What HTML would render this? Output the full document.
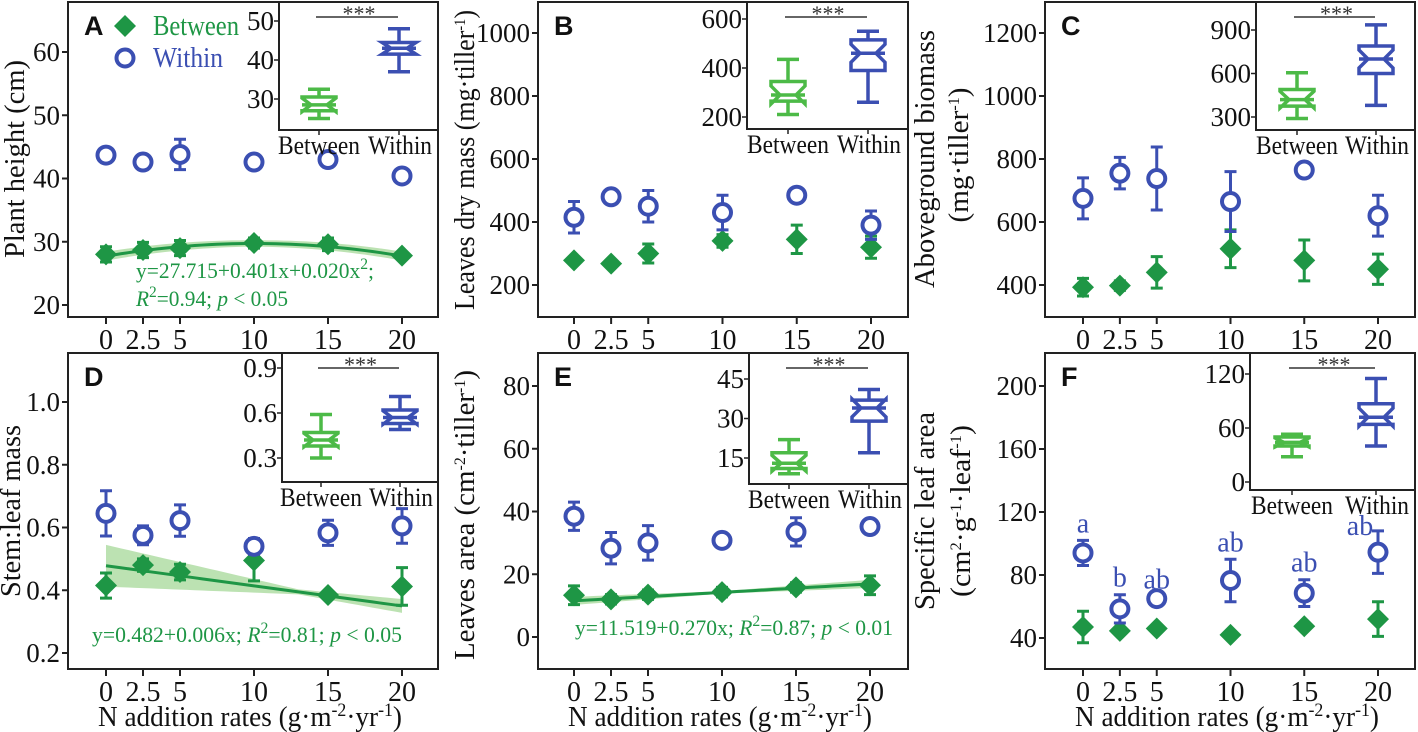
<!DOCTYPE html>
<html><head><meta charset="utf-8">
<style>
html,body{margin:0;padding:0;background:#fff;}
svg{display:block;font-family:"Liberation Serif","Times New Roman",serif;}
</style></head>
<body>
<svg id="fig" width="1418" height="732" viewBox="0 0 1418 732" xmlns="http://www.w3.org/2000/svg"></svg>
<script>
// ---- data ----
const nRates = [0, 2.5, 5, 10, 15, 20];
const xTickLabels = ["0","2.5","5","10","15","20"];

const aWithin = [43.7, 42.6, 43.8, 42.6, 43.0, 40.4];
const aWithinErr = [0.3, 0.3, 2.4, 1.0, 0.6, 0.3];
const aBetween = [28.0, 28.7, 29.0, 29.8, 29.6, 27.8];
const aBetweenErr = [1.2, 1.2, 1.2, 0.8, 1.0, 0.3];
const aFit = [27.715, 0.401, -0.020];
const aTicks = [20, 30, 40, 50, 60];
const aBoxBetween = [25, 27, 28.5, 30.5, 32.5];
const aBoxWithin = [37, 41.5, 43, 44.5, 48];
const aInsetTicks = [30, 40, 50];

const bWithin = [415, 480, 450, 430, 485, 390];
const bWithinErr = [50, 8, 50, 55, 10, 45];
const bBetween = [278, 268, 300, 340, 345, 320];
const bBetweenErr = [8, 5, 30, 20, 45, 35];
const bTicks = [200, 400, 600, 800, 1000];
const bBoxBetween = [210, 265, 290, 345, 435];
const bBoxWithin = [260, 390, 460, 515, 550];
const bInsetTicks = [200, 400, 600];

const cWithin = [675, 755, 738, 665, 765, 620];
const cWithinErr = [65, 50, 100, 95, 5, 65];
const cBetween = [393, 398, 440, 515, 478, 450];
const cBetweenErr = [28, 15, 50, 60, 65, 48];
const cTicks = [400, 600, 800, 1000, 1200];
const cBoxBetween = [290, 375, 420, 490, 605];
const cBoxWithin = [380, 600, 700, 790, 935];
const cInsetTicks = [300, 600, 900];

const dWithin = [0.645, 0.575, 0.622, 0.54, 0.583, 0.605];
const dWithinErr = [0.072, 0.03, 0.05, 0.025, 0.04, 0.055];
const dBetween = [0.415, 0.48, 0.458, 0.495, 0.385, 0.412];
const dBetweenErr = [0.04, 0.02, 0.025, 0.065, 0.01, 0.06];
const dFit = [0.478, -0.0064];
const dTicks = [0.2, 0.4, 0.6, 0.8, 1.0];
const dBoxBetween = [0.30, 0.38, 0.42, 0.47, 0.59];
const dBoxWithin = [0.49, 0.53, 0.57, 0.62, 0.71];
const dInsetTicks = [0.3, 0.6, 0.9];

const eWithin = [38.5, 28.3, 30.0, 30.8, 33.5, 35.2];
const eWithinErr = [4.5, 5.0, 5.5, 0.8, 4.5, 0.8];
const eBetween = [13.3, 12.0, 13.5, 14.3, 15.8, 16.5];
const eBetweenErr = [3.0, 1.5, 1.5, 1.5, 1.5, 3.0];
const eFit = [11.519, 0.270];
const eTicks = [0, 20, 40, 60, 80];
const eBoxBetween = [9, 11, 13, 17, 22];
const eBoxWithin = [17, 29, 34, 37, 41];
const eInsetTicks = [15, 30, 45];

const fWithin = [94, 58.5, 65, 76.5, 68.5, 94.5];
const fWithinErr = [8, 9, 1.5, 13.5, 8.5, 13.5];
const fBetween = [47, 44.5, 46, 42, 47.5, 52];
const fBetweenErr = [10, 1, 1, 1, 1, 11];
const fLetters = ["a","b","ab","ab","ab","ab"];
const fTicks = [40, 80, 120, 160, 200];
const fBoxBetween = [28, 40, 44, 50, 53];
const fBoxWithin = [40, 64, 72, 87, 115];
const fInsetTicks = [0, 60, 120];

// ---- rendering ----
const NS = "http://www.w3.org/2000/svg";
const svg = document.getElementById("fig");
const GREEN = "#1e9645", LGREEN = "#4cba47", BLUE = "#3b4fb2";
const TICK_FS = 27, TITLE_FS = 29;
function mk(tag, attrs, parent, text) {
  const e = document.createElementNS(NS, tag);
  for (const k in attrs) e.setAttribute(k, attrs[k]);
  if (text !== undefined) e.textContent = text;
  (parent || svg).appendChild(e);
  return e;
}
function lin(v1, p1, v2, p2) { return v => p1 + (v - v1) * (p2 - p1) / (v2 - v1); }

function panel(cfg) {
  const g = mk("g", {});
  
  
  const X = lin(0, cfg.x0p, 20, cfg.x20p);
  const Y = lin(cfg.yv1, cfg.yp1, cfg.yv2, cfg.yp2);
  const fr = mk("rect", {x: cfg.fx0, y: cfg.fy0, width: cfg.fx1 - cfg.fx0, height: cfg.fy1 - cfg.fy0, fill: "none", stroke: "#222", "stroke-width": 2}, g);
  
  
  cfg.yTicks.forEach(t => {
    const y = Y(t);
    mk("line", {x1: cfg.fx0 - 6, x2: cfg.fx0, y1: y, y2: y, stroke: "#222", "stroke-width": 2}, g);
    const tl = mk("text", {x: cfg.fx0 - 8, y: y + 9, "text-anchor": "end", "font-size": TICK_FS, fill: "#111"}, g, String(t === 1 ? "1.0" : t));
    
    
  });
  nRates.forEach((r, i) => {
    const x = X(r);
    mk("line", {x1: x, x2: x, y1: cfg.fy1, y2: cfg.fy1 + 7, stroke: "#222", "stroke-width": 2}, g);
    const tl = mk("text", {x: x, y: cfg.fy1 + 32, "text-anchor": "middle", "font-size": 28, fill: "#111"}, g, xTickLabels[i]);
    
    
  });
  cfg.yTitle.forEach(ln => {
    const cx = ln.x, cy = ln.cy;
    const t = mk("text", {x: cx, y: cy, "text-anchor": "middle", "font-size": TITLE_FS, fill: "#111", transform: `rotate(-90 ${cx} ${cy})`, textLength: ln.len, lengthAdjust: "spacingAndGlyphs"}, g);
    t.innerHTML = ln.html;
    
    
  });
  if (cfg.xTitle) {
    const t = mk("text", {x: (cfg.fx0 + cfg.fx1) / 2 - 3, y: cfg.fy1 + 57, "text-anchor": "middle", "font-size": TITLE_FS, fill: "#111", textLength: 304, lengthAdjust: "spacingAndGlyphs"}, g);
    t.innerHTML = 'N addition rates (g·m<tspan dy="-10" font-size="19">-2</tspan><tspan dy="10">·yr</tspan><tspan dy="-10" font-size="19">-1</tspan><tspan dy="10">)</tspan>';
    
    
  }
  const pl = mk("text", {x: cfg.fx0 + 16, y: cfg.fy0 + 33, "font-size": 27, "font-weight": "bold", "font-family": "Liberation Sans, sans-serif", fill: "#111"}, g, cfg.id);
  
  

  if (cfg.fit) {
    const pts = [], up = [], lo = [];
    for (let k = 0; k <= 40; k++) {
      const xv = k / 2;
      let yv = 0;
      cfg.fit.forEach((c, p) => yv += c * Math.pow(xv, p));
      const w = cfg.band(xv);
      pts.push(X(xv) + "," + Y(yv));
      up.push(X(xv) + "," + Y(yv + w));
      lo.unshift(X(xv) + "," + Y(yv - w));
    }
    const band = mk("polygon", {points: up.concat(lo).join(" "), fill: "#8fcf7e", opacity: 0.6}, g);
    
    
    const fl = mk("polyline", {points: pts.join(" "), fill: "none", stroke: GREEN, "stroke-width": 3}, g);
    
    
  }
  cfg.between.forEach((v, i) => {
    const x = X(nRates[i]), y = Y(v), e = cfg.betweenErr[i];
    const eb = mk("path", {d: `M${x},${Y(v - e)}V${Y(v + e)}M${x - 6},${Y(v - e)}h12M${x - 6},${Y(v + e)}h12`, stroke: GREEN, "stroke-width": 3, fill: "none"}, g);
    
    
    const d = mk("polygon", {points: `${x},${y - 11} ${x + 11},${y} ${x},${y + 11} ${x - 11},${y}`, fill: GREEN}, g);
    
    
  });
  cfg.within.forEach((v, i) => {
    const x = X(nRates[i]), y = Y(v), e = cfg.withinErr[i];
    const eb = mk("path", {d: `M${x},${Y(v - e)}V${Y(v + e)}M${x - 6},${Y(v - e)}h12M${x - 6},${Y(v + e)}h12`, stroke: BLUE, "stroke-width": 3, fill: "none"}, g);
    
    
    const c = mk("circle", {cx: x, cy: y, r: 8.5, fill: "#fff", stroke: BLUE, "stroke-width": 4}, g);
    
    
    if (cfg.letters) {
      const lt = mk("text", {x: x - (i === 5 ? 18 : 0), y: Y(v + e) - 8 + (i === 5 ? 12 : 0), "text-anchor": "middle", "font-size": 28, fill: BLUE}, g, cfg.letters[i]);
      
      
    }
  });
  if (cfg.eq) cfg.eq.forEach(e => {
    const t = mk("text", {x: e.x, y: e.y, "font-size": 22, fill: GREEN, textLength: e.len, lengthAdjust: "spacingAndGlyphs"}, g);
    t.innerHTML = e.html;
    
    
  });
  const ins = cfg.inset;
  const ig = mk("g", {}, g);
  
  
  mk("rect", {x: ins.x0, y: cfg.fy0, width: cfg.fx1 - ins.x0, height: ins.y1 - cfg.fy0, fill: "#fff", stroke: "#222", "stroke-width": 2}, ig);
  const IY = lin(ins.v1, ins.p1, ins.v2, ins.p2);
  ins.ticks.forEach(t => {
    const y = IY(t);
    mk("line", {x1: ins.x0 - 5, x2: ins.x0, y1: y, y2: y, stroke: "#222", "stroke-width": 1.5}, ig);
    const tl = mk("text", {x: ins.x0 - 5, y: y + 9, "text-anchor": "end", "font-size": TICK_FS, fill: "#111"}, ig, String(t));
    
    
  });
  [[ins.bx, cfg.boxB, LGREEN, "Between", 82, 0], [ins.wx, cfg.boxW, BLUE, "Within", 64, 1]].forEach(([cx, b, col, lab, len, off]) => {
    mk("line", {x1: cx, x2: cx, y1: ins.y1, y2: ins.y1 + 5, stroke: "#222", "stroke-width": 1.5}, ig);
    const hw = 17, nw = 8;
    const q1 = IY(b[1]), md = IY(b[2]), q3 = IY(b[3]);
    const nh = Math.min(Math.abs(q1 - q3) / 2, 9);
    const box = mk("path", {d: `M${cx - hw},${q3}H${cx + hw}V${md - nh}L${cx + nw},${md}L${cx + hw},${md + nh}V${q1}H${cx - hw}V${md + nh}L${cx - nw},${md}L${cx - hw},${md - nh}Z M${cx - hw},${md}H${cx + hw} M${cx},${q3}V${IY(b[4])} M${cx - 11},${IY(b[4])}h22 M${cx},${q1}V${IY(b[0])} M${cx - 11},${IY(b[0])}h22`, fill: "none", stroke: col, "stroke-width": 3.5}, ig);
    
    
    const tl = mk("text", {x: cx + off, y: ins.y1 + 24, "text-anchor": "middle", "font-size": 26, fill: "#111", textLength: len, lengthAdjust: "spacingAndGlyphs"}, ig, lab);
    
    
  });
  mk("line", {x1: ins.bx - 3, x2: ins.wx - 1, y1: cfg.fy0 + 15, y2: cfg.fy0 + 15, stroke: "#333", "stroke-width": 1.5}, ig);
  const st = mk("text", {x: (ins.bx + ins.wx) / 2, y: cfg.fy0 + 19, "text-anchor": "middle", "font-size": 22, fill: "#333"}, ig, "***");
  
  
}

const sup = (s) => `<tspan dy="-9" font-size="16">${s}</tspan><tspan dy="9">`;
panel({id: "A", fx0: 68, fx1: 438, fy0: 2, fy1: 317, x0p: 106, x20p: 402, yv1: 60, yp1: 52, yv2: 20, yp2: 305,
  yTicks: aTicks, within: aWithin, withinErr: aWithinErr, between: aBetween, betweenErr: aBetweenErr,
  fit: aFit, band: x => 0.5 + 0.02 * Math.abs(x - 10),
  yTitle: [{x: 24, cy: 159, len: 198, html: "Plant height (cm)"}],
  eq: [{x: 136, y: 278, len: 238, html: 'y=27.715+0.401x+0.020x' + sup("2") + ';</tspan>'},
       {x: 136, y: 306, len: 152, html: '<tspan font-style="italic">R</tspan>' + sup("2") + '=0.94; <tspan font-style="italic">p</tspan> &lt; 0.05</tspan>'}],
  inset: {x0: 279, y1: 130, v1: 50, p1: 21, v2: 30, p2: 99, ticks: aInsetTicks, bx: 319, wx: 399},
  boxB: aBoxBetween, boxW: aBoxWithin});
panel({id: "B", fx0: 538, fx1: 908, fy0: 2, fy1: 317, x0p: 574, x20p: 871, yv1: 1000, yp1: 33, yv2: 200, yp2: 285,
  yTicks: bTicks, within: bWithin, withinErr: bWithinErr, between: bBetween, betweenErr: bBetweenErr,
  yTitle: [{x: 474, cy: 160, len: 300, html: 'Leaves dry mass (mg·tiller' + sup("-1") + ')</tspan>'}],
  inset: {x0: 747, y1: 129, v1: 600, p1: 19, v2: 200, p2: 117, ticks: bInsetTicks, bx: 788, wx: 868},
  boxB: bBoxBetween, boxW: bBoxWithin});
panel({id: "C", fx0: 1045, fx1: 1415, fy0: 2, fy1: 317, x0p: 1083, x20p: 1378, yv1: 1200, yp1: 33, yv2: 400, yp2: 285,
  yTicks: cTicks, within: cWithin, withinErr: cWithinErr, between: cBetween, betweenErr: cBetweenErr,
  yTitle: [{x: 934, cy: 159, len: 258, html: "Aboveground biomass"}, {x: 968, cy: 155, len: 135, html: '(mg·tiller' + sup("-1") + ')</tspan>'}],
  inset: {x0: 1256, y1: 130, v1: 900, p1: 30, v2: 300, p2: 117, ticks: cInsetTicks, bx: 1297, wx: 1376},
  boxB: cBoxBetween, boxW: cBoxWithin});
panel({id: "D", fx0: 68, fx1: 438, fy0: 353, fy1: 669, x0p: 106, x20p: 402, yv1: 1.0, yp1: 402, yv2: 0.2, yp2: 653,
  yTicks: dTicks, within: dWithin, withinErr: dWithinErr, between: dBetween, betweenErr: dBetweenErr,
  fit: dFit, band: x => x < 13 ? 0.008 + 0.0045 * (13 - x) : 0.008 + 0.002 * (x - 13),
  yTitle: [{x: 20, cy: 511, len: 172, html: "Stem:leaf mass"}], xTitle: true,
  eq: [{x: 92, y: 642, len: 310, html: 'y=0.482+0.006x; <tspan font-style="italic">R</tspan>' + sup("2") + '=0.81; <tspan font-style="italic">p</tspan> &lt; 0.05</tspan>'}],
  inset: {x0: 282, y1: 482, v1: 0.9, p1: 368, v2: 0.3, p2: 458, ticks: dInsetTicks, bx: 321, wx: 400},
  boxB: dBoxBetween, boxW: dBoxWithin});
panel({id: "E", fx0: 538, fx1: 908, fy0: 353, fy1: 669, x0p: 574, x20p: 870, yv1: 80, yp1: 386, yv2: 0, yp2: 637,
  yTicks: eTicks, within: eWithin, withinErr: eWithinErr, between: eBetween, betweenErr: eBetweenErr,
  fit: eFit, band: x => 0.4 + 0.09 * Math.abs(x - 10),
  yTitle: [{x: 474, cy: 515, len: 290, html: 'Leaves area (cm' + sup("-2") + '·tiller</tspan>' + sup("-1") + ')</tspan>'}], xTitle: true,
  eq: [{x: 575, y: 635, len: 318, html: 'y=11.519+0.270x; <tspan font-style="italic">R</tspan>' + sup("2") + '=0.87; <tspan font-style="italic">p</tspan> &lt; 0.01</tspan>'}],
  inset: {x0: 749, y1: 484, v1: 45, p1: 379, v2: 15, p2: 458, ticks: eInsetTicks, bx: 789, wx: 869},
  boxB: eBoxBetween, boxW: eBoxWithin});
panel({id: "F", fx0: 1045, fx1: 1415, fy0: 353, fy1: 669, x0p: 1083, x20p: 1378, yv1: 200, yp1: 386, yv2: 40, yp2: 638,
  yTicks: fTicks, within: fWithin, withinErr: fWithinErr, between: fBetween, betweenErr: fBetweenErr, letters: fLetters,
  yTitle: [{x: 934, cy: 511, len: 198, html: "Specific leaf area"}, {x: 970, cy: 511, len: 172, html: '(cm' + sup("2") + '·g</tspan>' + sup("-1") + '·leaf</tspan>' + sup("-1") + ')</tspan>'}], xTitle: true,
  inset: {x0: 1250, y1: 490, v1: 120, p1: 374, v2: 0, p2: 482, ticks: fInsetTicks, bx: 1292, wx: 1376},
  boxB: fBoxBetween, boxW: fBoxWithin});

const lg = mk("g", {});


mk("polygon", {points: "125,15 136,26 125,37 114,26", fill: GREEN}, lg);
const l1 = mk("text", {x: 153, y: 35, "font-size": 28, fill: GREEN, textLength: 86, lengthAdjust: "spacingAndGlyphs"}, lg, "Between");


mk("circle", {cx: 125, cy: 58, r: 8.5, fill: "#fff", stroke: BLUE, "stroke-width": 4}, lg);
const l2 = mk("text", {x: 153, y: 67, "font-size": 28, fill: BLUE, textLength: 70, lengthAdjust: "spacingAndGlyphs"}, lg, "Within");


</script>
</body></html>
